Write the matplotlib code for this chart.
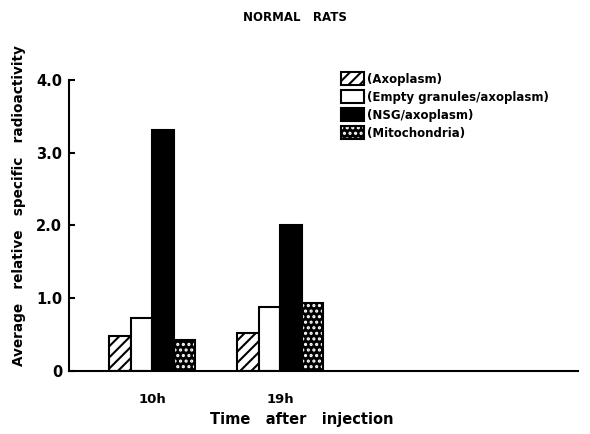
import numpy as np
import matplotlib
matplotlib.use("Agg")
import matplotlib.pyplot as plt
from matplotlib.patches import Patch

plt.rcParams['font.family'] = ['DejaVu Sans']
plt.rcParams['font.weight'] = 'bold'
plt.rcParams['hatch.linewidth'] = 1.5

times = ["10h", "19h"]
series = ["(Axoplasm)", "(Empty granules/axoplasm)", "(NSG/axoplasm)",
          "(Mitochondria)"]
axoplasm = [0.48, 0.52]
empty_granules = [0.73, 0.88]
nsg = [3.31, 2.01]
mitochondria = [0.42, 0.94]
yticks = [0, 1.0, 2.0, 3.0, 4.0]
ytick_labels = ["0", "1.0", "2.0", "3.0", "4.0"]


def main():
    fig = plt.figure(figsize=(5.9, 4.34), dpi=100)
    ax = fig.add_axes([0.117, 0.145, 0.863, 0.671])

    x = np.arange(len(times))
    w = 0.168
    ax.bar(x - 1.5 * w, axoplasm, w, facecolor='white', edgecolor='black',
           hatch='///', linewidth=1.5)
    ax.bar(x - 0.5 * w, empty_granules, w, facecolor='white',
           edgecolor='black', linewidth=1.5)
    ax.bar(x + 0.5 * w, nsg, w, facecolor='black', edgecolor='black',
           linewidth=1.5)
    # stippled bars: black fill, white dots, then a black outline on top
    ax.bar(x + 1.5 * w, mitochondria, w, facecolor='black',
           edgecolor='white', hatch='...', linewidth=0)
    ax.bar(x + 1.5 * w, mitochondria, w, fill=False, edgecolor='black',
           linewidth=1.5)

    ax.set_xlim(-0.65, 3.33)
    ax.set_ylim(0, 4.0)
    ax.set_yticks(yticks)
    ax.set_yticklabels(ytick_labels, fontsize=10.5, fontweight='bold')
    ax.tick_params(axis='y', direction='in', length=4, width=1.5, pad=5)
    ax.set_xticks(x)
    ax.set_xticklabels(times, fontsize=9.5, fontweight='bold')
    ax.tick_params(axis='x', length=0, pad=16)
    for s in ['top', 'right']:
        ax.spines[s].set_visible(False)
    ax.spines['left'].set_linewidth(1.5)
    ax.spines['bottom'].set_linewidth(1.5)

    ax.set_ylabel("Average   relative   specific   radioactivity",
                  fontsize=9.8, fontweight='bold')
    ax.yaxis.set_label_coords(-0.085, 0.567)
    ax.set_xlabel("Time   after   injection", fontsize=10.5,
                  fontweight='bold')
    ax.xaxis.set_label_coords(0.458, -0.14)
    fig.suptitle("NORMAL   RATS", fontsize=8.5, fontweight='bold', x=0.5,
                 y=0.975)

    handles = [
        Patch(facecolor='white', edgecolor='black', hatch='///',
              linewidth=1.5),
        Patch(facecolor='white', edgecolor='black', linewidth=1.5),
        Patch(facecolor='black', edgecolor='black', linewidth=1.5),
        (Patch(facecolor='black', edgecolor='white', hatch='...',
               linewidth=0),
         Patch(fill=False, edgecolor='black', linewidth=1.5)),
    ]
    ax.legend(handles, series, loc='upper left',
              bbox_to_anchor=(0.513, 1.064), frameon=False, fontsize=8.5,
              handlelength=1.95, handleheight=1.4, handletextpad=0.25,
              labelspacing=0.36)

    fig.savefig("out.png", dpi=100)


if __name__ == "__main__":
    main()
